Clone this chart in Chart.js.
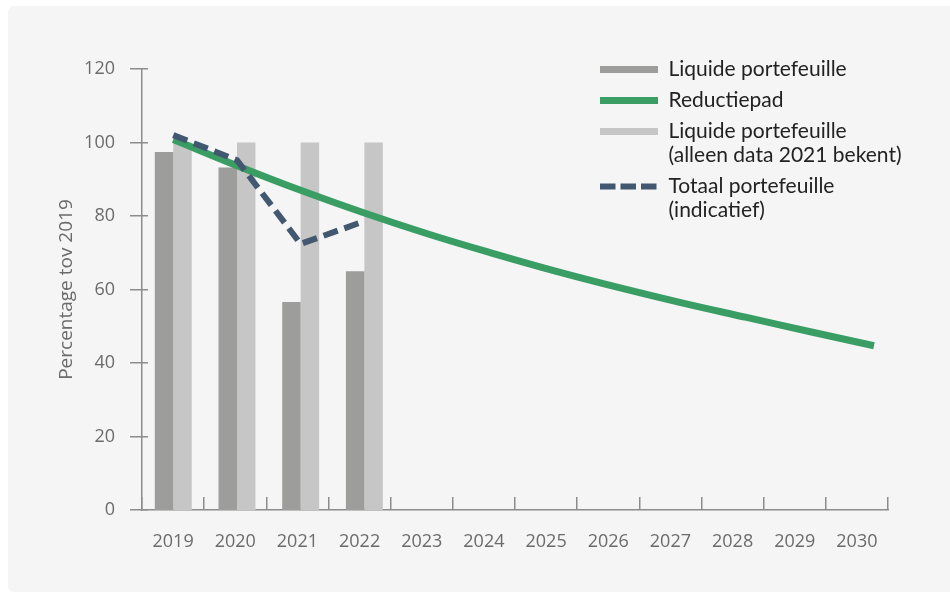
<!DOCTYPE html>
<html>
<head>
<meta charset="utf-8">
<script src="https://cdn.jsdelivr.net/npm/chart.js@4.4.1/dist/chart.umd.min.js"></script>
<style>
  html, body { margin: 0; padding: 0; background: #ffffff; }
  #wrap { position: relative; width: 950px; height: 592px; overflow: hidden; }
  #panel { position: absolute; left: 8px; top: 6px; width: 960px; height: 586px; background: #f5f5f5; border-radius: 6px; }
  #c { position: absolute; left: 0; top: 0; }
</style>
</head>
<body>
<div id="wrap">
  <div id="panel"></div>
  <canvas id="c" width="950" height="592"></canvas>
</div>
<script>
// ---- data ----
const years = ['2019', '2020', '2021', '2022', '2023', '2024', '2025', '2026', '2027', '2028', '2029', '2030'];
const yearNums = [2019, 2020, 2021, 2022, 2023, 2024, 2025, 2026, 2027, 2028, 2029, 2030];
const liquidePortefeuille = [97.4, 93.2, 56.6, 65.0];
const liquideBekend = [100, 100, 100, 100];
const reductiepad = [100.8, 93.7, 87.0, 80.8, 75.1, 69.9, 65.0, 60.5, 56.3, 52.4, 48.5, 44.7];
const totaalPortefeuille = [102.0, 95.2, 72.4, 78.6];
const yTickValues = [0, 20, 40, 60, 80, 100, 120];

const seriesLabels = [
  'Liquide portefeuille',
  'Reductiepad',
  'Liquide portefeuille (alleen data 2021 bekent)',
  'Totaal portefeuille (indicatief)'
];
const legendLines = [
  ['Liquide portefeuille'],
  ['Reductiepad'],
  ['Liquide portefeuille', '(alleen data 2021 bekent)'],
  ['Totaal portefeuille', '(indicatief)']
];

// ---- styles ----
const DARK = '#9d9d9c';
const LIGHT = '#c6c6c6';
const GREEN = '#3a9e64';
const SLATE = '#425870';
const AXIS = '#8c8c8c';
const TICKTXT = '#6b6b6b';
const legendColors = [DARK, GREEN, LIGHT, SLATE];

const toXY = (vals) => vals.map((v, i) => ({ x: yearNums[i], y: v }));

const legendPlacer = {
  id: 'legendPlacer',
  afterLayout(chart) {
    const l = chart.legend;
    if (!l) return;
    l.left = 593;
    l.top = 52;
    l.right = 950;
    l.bottom = 300;
    l.width = l.right - l.left;
    l.height = l.bottom - l.top;
  }
};

new Chart(document.getElementById('c'), {
  type: 'bar',
  data: {
    datasets: [
      {
        type: 'bar', label: seriesLabels[0], data: toXY(liquidePortefeuille),
        backgroundColor: DARK, xAxisID: 'xd', yAxisID: 'y', order: 3,
        categoryPercentage: 0.58, barPercentage: 1
      },
      {
        type: 'line', label: seriesLabels[1], data: toXY(reductiepad),
        borderColor: GREEN, backgroundColor: GREEN, borderWidth: 7, pointRadius: 0,
        tension: 0.4, borderCapStyle: 'butt',
        xAxisID: 'xd', yAxisID: 'y', order: 2
      },
      {
        type: 'bar', label: seriesLabels[2], data: toXY(liquideBekend),
        backgroundColor: LIGHT, xAxisID: 'xd', yAxisID: 'y', order: 3,
        categoryPercentage: 0.58, barPercentage: 1
      },
      {
        type: 'line', label: seriesLabels[3], data: toXY(totaalPortefeuille),
        borderColor: SLATE, backgroundColor: SLATE, borderWidth: 6, pointRadius: 0,
        borderDash: [15, 7], tension: 0, borderCapStyle: 'butt',
        xAxisID: 'xd', yAxisID: 'y', order: 1
      }
    ]
  },
  options: {
    responsive: false,
    maintainAspectRatio: false,
    animation: false,
    devicePixelRatio: 1,
    layout: { padding: { left: 50, right: 62, top: 69, bottom: 0 } },
    scales: {
      xd: {
        type: 'linear', display: false, offset: false,
        min: 2018.509, max: 2030.22
      },
      x: {
        type: 'category', labels: years, position: 'bottom',
        offset: true,
        grid: { display: false, offset: true },
        border: { display: true, color: AXIS, width: 1.5 },
        ticks: {
          color: TICKTXT, padding: 13, maxRotation: 0, autoSkip: false,
          font: { family: 'Open Sans', size: 18 }
        },
        afterFit(scale) { scale.height = 82; }
      },
      xt: {
        type: 'category', labels: years, position: { y: 3.54 },
        offset: true,
        grid: { display: true, offset: true, drawOnChartArea: false, drawTicks: true, tickLength: 13, color: AXIS, lineWidth: 1.5 },
        border: { display: false },
        ticks: { display: false }
      },
      y: {
        type: 'linear', position: 'left', min: 0, max: 120,
        afterBuildTicks(scale) { scale.ticks = yTickValues.map(v => ({ value: v })); },
        grid: { display: false },
        border: { display: true, color: AXIS, width: 1.5 },
        ticks: { color: TICKTXT, padding: 19, font: { family: 'Open Sans', size: 18 } },
        title: {
          display: true, text: 'Percentage tov 2019', color: TICKTXT,
          font: { family: 'Open Sans', size: 19 }, padding: { top: 5, bottom: 0 }
        },
        afterFit(scale) { scale.width = 92; }
      },
      yt: {
        type: 'linear', position: { x: -0.4 }, min: 0, max: 120,
        afterBuildTicks(scale) { scale.ticks = yTickValues.map(v => ({ value: v })); },
        grid: { display: true, drawOnChartArea: false, drawTicks: true, tickLength: 18, color: AXIS, lineWidth: 1.5 },
        border: { display: false },
        ticks: { display: false }
      }
    },
    plugins: {
      tooltip: { enabled: false },
      legend: {
        display: true,
        position: 'chartArea',
        align: 'start',
        labels: {
          usePointStyle: true,
          pointStyleWidth: 58,
          padding: 7,
          color: '#222222',
          font: { family: 'Lato', size: 21, lineHeight: '24px' },
          generateLabels(chart) {
            return chart.data.datasets.map((ds, i) => ({
              text: legendLines[i],
              fillStyle: legendColors[i],
              strokeStyle: legendColors[i],
              fontColor: '#222222',
              lineWidth: i === 3 ? 6 : 7,
              lineDash: i === 3 ? [15.5, 5] : [],
              lineCap: 'butt',
              pointStyle: 'line',
              hidden: false,
              datasetIndex: i
            }));
          }
        }
      }
    }
  },
  plugins: [legendPlacer]
});
</script>
</body>
</html>
